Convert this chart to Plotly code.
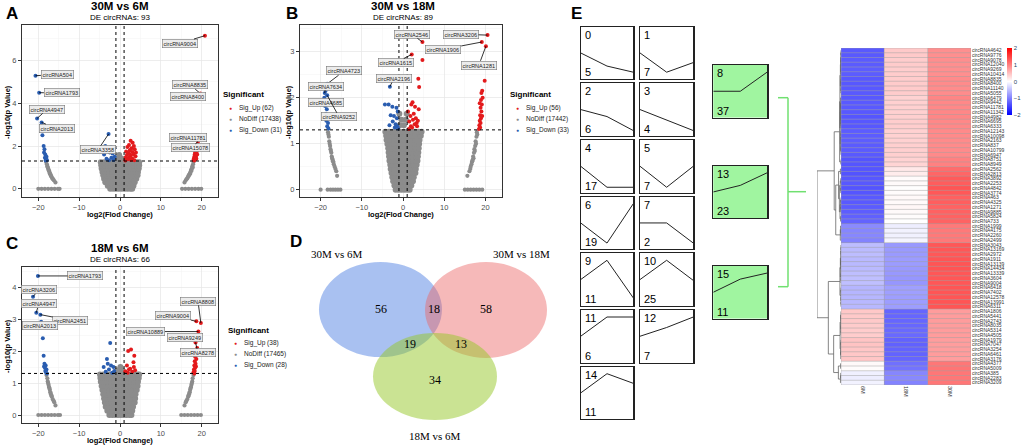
import numpy as np
import plotly.graph_objects as go

W, H = 1021, 445
SANS = "Liberation Sans, Arial, sans-serif"
SERIF = "Liberation Serif, Times New Roman, serif"
RED, GREY, BLUE = "#e31a1c", "#8c8c8c", "#2a5db0"

# ======================= DATA =======================
# ---- Panel A: 30M vs 6M  (log2 fold change, -log10 p) ----
a_up = [(20.8,7.15),(19.7,4.45),(19.4,4.25),(19.6,2.38),(19.1,2.2),
        (18.9,2.0),(18.7,1.9),(18.5,1.85),(18.8,1.75),(18.4,1.7),(18.6,1.65),(18.3,1.6),(18.5,1.55),
        (18.2,1.5),(18.4,1.45),(18.1,1.42),(18.3,1.38),(18.0,1.35),(18.2,1.32),(18.6,1.5),(18.9,1.6),
        (19.0,1.8),(18.7,1.4),
        (2.6,2.25),(3.1,2.15),(2.2,2.05),(3.4,2.0),(1.8,1.95),(2.8,1.9),(3.6,1.85),(2.4,1.8),(1.5,1.75),
        (3.0,1.72),(2.0,1.68),(3.3,1.62),(1.7,1.58),(2.6,1.55),(3.8,1.52),(1.4,1.48),(2.2,1.45),(3.0,1.42),
        (1.9,1.38),(2.7,1.35),(3.5,1.33),(1.3,1.32),(2.4,1.62),(3.9,1.7)]
a_down = [(-20.7,5.28),(-19.8,4.49),(-20.3,3.29),(-19.2,3.1),(-19.0,2.5),
          (-18.7,2.0),(-18.5,1.85),(-18.6,1.7),(-18.3,1.6),(-18.4,1.45),(-18.1,1.38),(-18.2,1.32),
          (-17.9,1.35),(-18.0,1.5),
          (-2.8,2.56),(-3.6,2.0),(-2.2,1.95),(-1.4,1.9),(-3.0,1.8),(-2.5,1.7),(-1.8,1.65),(-3.9,1.6),
          (-1.3,1.5),(-2.1,1.45),(-3.3,1.4),(-1.6,1.35),(-2.7,1.33)]
a_nodiff_arms = [(-18.1,1.25),(-17.9,1.15),(-17.8,1.05),(-17.6,0.95),(-17.5,0.88),(-17.3,0.8),(-17.2,0.72),
                 (-17.0,0.65),(-16.8,0.58),(-16.6,0.5),(-16.4,0.45),(-16.2,0.4),(-15.8,0.3),(-17.7,1.0),
                 (-17.4,0.85),(-17.1,0.7),(-16.9,0.6),
                 (-20.0,0),(-19.2,0),(-18.4,0),(-17.6,0),(-16.8,0),(-16.0,0),(-15.2,0),(-14.8,0),
                 (18.0,1.25),(17.9,1.15),(17.7,1.05),(17.6,0.95),(17.4,0.88),(17.3,0.8),(17.1,0.72),
                 (16.9,0.65),(16.7,0.58),(16.5,0.5),(16.3,0.45),(16.1,0.4),(15.8,0.3),(17.8,1.0),
                 (17.5,0.85),(17.2,0.7),(16.8,0.6),
                 (15.2,0),(16.0,0),(16.8,0),(17.6,0),(18.4,0),(19.2,0),(19.9,0)]
a_nodiff_core = [(0.00,[-2.4,-1.7,-1.0,-0.3,0.4,1.1,1.8,2.5,3.0]),
                 (0.15,[-3.0,-2.3,-1.6,-0.9,-0.2,0.5,1.2,1.9,2.6,3.3]),
                 (0.31,[-3.6,-2.9,-2.2,-1.5,-0.7,0.0,0.7,1.4,2.1,2.9,3.6]),
                 (0.47,[-3.9,-3.1,-2.4,-1.6,-0.9,-0.1,0.6,1.3,2.1,2.8,3.6,4.0]),
                 (0.63,[-4.1,-3.3,-2.5,-1.8,-1.0,-0.3,0.5,1.2,2.0,2.7,3.5,4.3]),
                 (0.79,[-4.3,-3.5,-2.7,-1.9,-1.1,-0.4,0.4,1.1,1.9,2.7,3.5,4.4]),
                 (0.95,[-4.5,-3.7,-2.9,-2.1,-1.3,-0.5,0.3,1.0,1.8,2.6,3.4,4.2,4.6]),
                 (1.10,[-4.6,-3.8,-3.0,-2.2,-1.4,-0.6,0.2,0.9,1.7,2.5,3.3,4.1,4.7]),
                 (1.24,[-4.7,-3.9,-3.0,-2.2,-1.4,-0.6,0.2,0.9,1.7,2.5,3.3,4.1,4.7]),
                 (1.42,[-0.7,0.4]),(1.58,[-0.2])]
a_label_names = ["circRNA9004","circRNA8835","circRNA8400","circRNA11781","circRNA15078",
                 "circRNA504","circRNA1793","circRNA4947","circRNA2013","circRNA3358"]
a_label_pts = [(20.8,7.15),(19.7,4.45),(19.4,4.25),(19.6,2.38),(19.1,2.2),
               (-20.7,5.28),(-19.8,4.49),(-20.3,3.29),(-19.2,3.1),(-2.8,2.56)]
a_counts = {"up": 62, "nodiff": 17438, "down": 31, "de": 93}

# ---- Panel B: 30M vs 18M ----
b_up = [(20.5,3.36),(19.1,3.21),(20.1,3.12),(4.7,3.21),(2.1,2.94),(4.7,2.82),(3.7,2.41),(3.9,2.23),(19.8,2.37),
        (19.2,2.15),(19.0,2.1),(19.3,2.0),(18.9,1.95),(19.1,1.85),(18.8,1.78),(19.0,1.7),(18.7,1.62),(18.9,1.55),
        (18.6,1.5),(18.8,1.45),(18.5,1.4),(18.7,1.35),(18.4,1.32),(19.2,1.6),(18.6,1.88),
        (2.3,1.9),(2.0,1.85),(3.8,1.75),(2.6,1.65),(1.8,1.6),(3.1,1.55),(2.4,1.52),(1.5,1.48),(3.3,1.45),
        (2.8,1.42),(1.9,1.38),(2.2,1.35),(1.4,1.32),(3.6,1.5),(3.4,1.38),(1.2,1.7),(2.9,1.8)]
b_down = [(-18.4,2.3),(-19.0,2.1),(-19.2,1.95),(-18.4,2.05),(-3.2,2.24),
          (-18.8,2.15),(-19.1,2.0),(-18.6,1.9),(-18.9,1.82),(-18.5,1.75),(-18.7,1.65),(-18.3,1.58),
          (-18.6,1.5),(-18.2,1.45),(-18.4,1.38),(-18.1,1.33),
          (-4.4,1.85),(-3.5,1.85),(-2.6,1.8),(-1.6,1.78),(-1.3,1.7),(-3.0,1.62),(-2.2,1.6),(-1.5,1.55),
          (-2.5,1.48),(-1.8,1.42),(-1.4,1.38),(-1.2,1.33),(-3.3,1.4),(-2.0,1.35)]
b_nodiff_arms = [(-18.2,1.25),(-18.0,1.15),(-17.9,1.05),(-17.7,0.95),(-17.6,0.88),(-17.4,0.8),(-17.3,0.72),
                 (-17.1,0.65),(-16.9,0.6),(-16.8,0.55),(-16.6,0.5),(-16.4,0.45),(-16.2,0.4),(-16.0,0.3),
                 (-17.8,1.0),(-17.5,0.84),(-17.2,0.68),(-18.1,1.2),(-17.0,0.62),
                 (-20.0,0),(-18.3,0),(-17.6,0),(-17.0,0),(-16.4,0),(-15.8,0),(-15.2,0),
                 (17.9,1.25),(17.8,1.15),(17.6,1.05),(17.5,0.95),(17.3,0.88),(17.2,0.8),(17.0,0.72),
                 (16.9,0.65),(16.7,0.6),(16.6,0.55),(16.4,0.5),(16.3,0.45),(16.1,0.4),(15.6,0.3),
                 (17.7,1.0),(17.4,0.84),(17.1,0.68),(18.0,1.2),(16.8,0.62),
                 (15.0,0),(15.7,0),(16.4,0),(17.1,0),(17.8,0),(18.5,0),(19.2,0)]
b_nodiff_core = [(0.00,[-1.8,-1.1,-0.4,0.3,1.0,1.6]),
                 (0.09,[-2.1,-1.4,-0.7,0.0,0.7,1.4,2.0]),
                 (0.18,[-2.4,-1.6,-0.9,-0.2,0.5,1.2,1.9,2.4]),
                 (0.27,[-2.6,-1.8,-1.0,-0.3,0.4,1.1,1.9,2.6]),
                 (0.36,[-2.8,-2.0,-1.2,-0.4,0.3,1.0,1.8,2.6,3.0]),
                 (0.45,[-3.0,-2.2,-1.4,-0.6,0.2,1.0,1.8,2.6,3.1]),
                 (0.54,[-3.1,-2.3,-1.5,-0.7,0.1,0.9,1.7,2.5,3.3]),
                 (0.63,[-3.3,-2.5,-1.6,-0.8,0.0,0.8,1.6,2.4,3.2,3.5]),
                 (0.72,[-3.4,-2.6,-1.7,-0.9,-0.1,0.7,1.5,2.3,3.1,3.6]),
                 (0.81,[-3.5,-2.6,-1.8,-0.9,-0.1,0.7,1.5,2.3,3.1,3.7]),
                 (0.90,[-3.6,-2.8,-1.9,-1.0,-0.2,0.6,1.4,2.3,3.1,3.8]),
                 (0.99,[-3.8,-2.9,-2.0,-1.1,-0.3,0.5,1.4,2.2,3.0,3.9]),
                 (1.08,[-4.0,-3.1,-2.2,-1.3,-0.4,0.4,1.3,2.2,3.1,4.0]),
                 (1.17,[-4.1,-3.2,-2.3,-1.4,-0.5,0.3,1.2,2.1,3.0,3.9,4.3]),
                 (1.26,[-4.3,-3.4,-2.5,-1.6,-0.7,0.2,1.1,2.0,2.9,3.8,4.5]),
                 (1.40,[-0.8,0.2]),(1.52,[0.7,-0.4]),(1.65,[0.9,-0.9])]
b_label_names = ["circRNA3206","circRNA1906","circRNA1281","circRNA2546","circRNA1615","circRNA2196",
                 "circRNA4723","circRNA7634","circRNA4685","circRNA9252"]
b_label_pts = [(20.5,3.36),(19.1,3.21),(20.1,3.12),(4.7,3.21),(2.1,2.94),(-3.2,2.24),
               (-18.4,2.3),(-19.0,2.1),(-19.2,1.95),(-18.4,2.05)]
b_counts = {"up": 56, "nodiff": 17442, "down": 33, "de": 89}

# ---- Panel C: 18M vs 6M ----
c_up = [(19.8,2.88),(18.7,2.93),(19.2,2.61),(18.5,2.45),(18.5,2.27),
        (18.9,2.1),(18.6,2.0),(18.8,1.9),(18.4,1.82),(18.7,1.75),(18.3,1.68),(18.5,1.6),(18.2,1.55),
        (18.4,1.48),(18.1,1.42),(18.3,1.38),(18.0,1.34),(18.6,1.52),(18.2,1.3),
        (2.7,2.05),(2.0,2.0),(3.5,1.85),(3.3,1.65),(1.7,1.55),(3.4,1.5),(1.3,1.37),(2.2,1.42),(3.0,1.35),
        (2.5,1.45),(1.9,1.32),(3.7,1.4)]
c_down = [(-20.1,4.35),(-21.3,3.7),(-20.5,3.2),(-19.5,3.14),(-19.3,2.92),(-18.9,2.4),
          (-18.7,1.85),(-18.5,1.6),(-18.2,1.55),(-18.4,1.48),(-18.0,1.42),(-18.3,1.38),(-18.1,1.33),
          (-18.6,1.52),(-17.9,1.3),
          (-2.4,2.25),(-3.2,1.75),(-3.0,1.6),(-2.2,1.55),(-4.0,1.5),(-1.6,1.5),(-2.7,1.42),(-1.4,1.38),
          (-3.5,1.35),(-1.9,1.32)]
c_nodiff_arms = [(-18.0,1.25),(-17.8,1.15),(-17.7,1.05),(-17.5,0.95),(-17.4,0.88),(-17.2,0.8),(-17.1,0.72),
                 (-16.9,0.65),(-16.7,0.58),(-16.5,0.5),(-16.3,0.45),(-16.1,0.4),(-15.8,0.3),(-17.6,1.0),
                 (-17.3,0.85),(-17.0,0.7),(-16.8,0.6),
                 (-20.0,0),(-19.2,0),(-18.4,0),(-17.6,0),(-16.8,0),(-16.0,0),(-15.2,0),(-14.7,0),
                 (18.0,1.25),(17.8,1.15),(17.7,1.05),(17.5,0.95),(17.4,0.88),(17.2,0.8),(17.1,0.72),
                 (16.9,0.65),(16.7,0.58),(16.5,0.5),(16.3,0.45),(16.1,0.4),(15.8,0.3),(17.6,1.0),
                 (17.3,0.85),(17.0,0.7),(16.8,0.6),
                 (15.0,0),(15.8,0),(16.6,0),(17.4,0),(18.2,0),(19.0,0),(19.8,0)]
c_nodiff_core = [(0.00,[-2.6,-1.9,-1.2,-0.5,0.2,0.9,1.6,2.3,2.8]),
                 (0.13,[-3.1,-2.4,-1.7,-1.0,-0.3,0.4,1.1,1.8,2.5,3.0]),
                 (0.26,[-3.5,-2.8,-2.0,-1.3,-0.6,0.1,0.8,1.5,2.3,3.2]),
                 (0.39,[-3.7,-2.9,-2.1,-1.4,-0.7,0.0,0.7,1.5,2.3,3.1,3.6]),
                 (0.52,[-3.9,-3.1,-2.3,-1.5,-0.8,-0.1,0.6,1.4,2.2,3.0,3.7]),
                 (0.65,[-4.1,-3.3,-2.5,-1.7,-0.9,-0.2,0.6,1.4,2.2,3.0,3.8]),
                 (0.78,[-4.3,-3.5,-2.7,-1.9,-1.1,-0.3,0.5,1.3,2.1,2.9,3.7,4.1]),
                 (0.91,[-4.5,-3.7,-2.9,-2.1,-1.3,-0.4,0.4,1.2,2.0,2.8,3.6,4.3]),
                 (1.04,[-4.7,-3.9,-3.1,-2.2,-1.4,-0.5,0.3,1.1,1.9,2.7,3.5,4.4]),
                 (1.16,[-4.8,-4.0,-3.1,-2.3,-1.4,-0.5,0.3,1.1,1.9,2.7,3.5,4.4,4.6]),
                 (1.27,[-4.9,-4.1,-3.2,-2.4,-1.5,-0.6,0.2,1.0,1.8,2.6,3.5,4.3,4.7]),
                 (1.40,[-0.6,0.5]),(1.50,[0.1])]
c_label_names = ["circRNA1793","circRNA3206","circRNA4947","circRNA2451","circRNA2013",
                 "circRNA8808","circRNA9004","circRNA10889","circRNA9249","circRNA8278"]
c_label_pts = [(-20.1,4.35),(-21.3,3.7),(-20.5,3.2),(-19.5,3.14),(-19.3,2.92),
               (19.8,2.88),(18.7,2.93),(19.2,2.61),(18.5,2.45),(18.5,2.27)]
c_counts = {"up": 38, "nodiff": 17465, "down": 28, "de": 66}

# ---- Panel D: Venn counts ----
venn_sets = ["30M vs 6M", "30M vs 18M", "18M vs 6M"]
venn_counts = [56, 18, 58, 19, 13, 34]   # A only, A&B, B only, A&C, B&C, C only

# ---- Panel E: STEM profiles ----
prof_ids = [0, 1, 2, 3, 4, 5, 6, 7, 9, 10, 11, 12, 14, 8, 13, 15]
prof_counts = [5, 7, 6, 4, 17, 7, 19, 2, 11, 25, 6, 7, 11, 37, 23, 11]
prof_vals = [[0,-1.5,-2.2],[0,-2.2,-1.1],[0,-0.8,-2.4],[0,-1.2,-2.4],[0,-2.4,-2.4],[0,-2.4,0],
             [0,-2.3,2.2],[0,0,-2.3],[0,2.2,-2.1],[0,2.2,-0.1],[0,2.2,2.2],[0,1.0,2.2],[0,2.2,1.1],
             [0,0,2.2],[0,0.75,2.2],[0,1.5,2.2]]
prof_sig = [False]*13 + [True]*3

# ---- Panel E: heatmap (row-scaled expression) ----
hm_cols = ["6M", "18M", "30M"]
hm_rows = ["circRNA4642","circRNA2562","circRNA2813","circRNA837","circRNA8835","circRNA12143","circRNA8400",
           "circRNA9442","circRNA9269","circRNA6479","circRNA9078","circRNA4982","circRNA9776","circRNA10098",
           "circRNA6695","circRNA11342","circRNA12040","circRNA6947","circRNA8751","circRNA10414","circRNA11781",
           "circRNA6333","circRNA2163","circRNA11140","circRNA10799","circRNA8949","circRNA5055",
           "circRNA3892","circRNA463","circRNA4842","circRNA2253","circRNA1271","circRNA3774","circRNA4325",
           "circRNA4175","circRNA1999","circRNA2499","circRNA2260",
           "circRNA5824","circRNA733","circRNA9885",
           "circRNA1911","circRNA3043","circRNA6418","circRNA3604","circRNA13991","circRNA13169","circRNA12578",
           "circRNA13339","circRNA13139","circRNA14434","circRNA7402","circRNA2972","circRNA6311","circRNA9004",
           "circRNA5441","circRNA3254","circRNA5314","circRNA1979","circRNA1806","circRNA8035","circRNA6461",
           "circRNA7047","circRNA2743","circRNA4505","circRNA3176",
           "circRNA4377","circRNA5009",
           "circRNA385","circRNA2283","circRNA3209"]
hm_6m = [-1.30,-1.33,-1.35,-1.29,-1.31,-1.28,-1.32,-1.30,-1.27,-1.31,-1.29,-1.33,-1.30,-1.28,-1.32,-1.31,
         -1.29,-1.30,-1.34,-1.28,-1.30,-1.32,-1.27,-1.31,-1.29,-1.33,-1.30,
         -1.32,-1.30,-1.34,-1.31,-1.29,-1.33,-1.30,
         -0.95,-0.92,-0.97,-0.94,
         -1.25,-1.22,-1.27,
         -0.55,-0.52,-0.58,-0.50,-0.56,-0.53,-0.57,-0.51,-0.55,-0.54,-0.58,-0.52,-0.56,-0.50,
         0.42,0.45,0.40,0.46,0.43,0.41,0.44,0.47,0.42,0.40,0.45,
         0.05,0.02,
         -0.12,-0.14,-0.10]
hm_18m = [0.42,0.18,0.15,0.38,0.40,0.36,0.41,0.37,0.39,0.35,0.40,0.38,0.42,0.36,0.39,0.37,0.41,0.38,0.35,
          0.40,0.37,0.39,0.36,0.41,0.38,0.34,0.40,
          0.03,0.05,0.01,0.04,0.06,0.02,0.04,
          -0.10,-0.13,-0.08,-0.11,
          0.02,0.00,0.04,
          -0.78,-0.80,-0.75,-0.82,-0.77,-0.79,-0.76,-0.81,-0.78,-0.80,-0.75,-0.79,-0.77,-0.82,
          -1.20,-1.22,-1.18,-1.23,-1.21,-1.19,-1.22,-1.24,-1.20,-1.18,-1.21,
          -1.12,-1.10,
          -0.95,-0.93,-0.97]
hm_30m = [0.88,1.15,1.20,0.91,0.91,0.92,0.91,0.93,0.88,0.96,0.89,0.95,0.88,0.92,0.93,0.94,0.88,0.92,0.99,
          0.88,0.93,0.93,0.91,0.90,0.91,0.99,0.90,
          1.29,1.25,1.33,1.27,1.23,1.31,1.26,
          1.05,1.05,1.05,1.05,
          1.23,1.22,1.23,
          1.33,1.32,1.33,1.32,1.33,1.32,1.33,1.32,1.33,1.34,1.33,1.31,1.33,1.32,
          0.78,0.77,0.78,0.77,0.78,0.78,0.78,0.77,0.78,0.78,0.76,
          1.07,1.08,
          1.07,1.07,1.07]

# ======================= LAYOUT HELPERS =======================
def dx(a, b): return [a / W, b / W]
def dy(t, b): return [1 - b / H, 1 - t / H]
def px(x): return x / W
def py(y): return 1 - y / H

fig = go.Figure()
lay = {}
anns = []
shapes = []

def keys(i):
    s = "" if i == 1 else str(i)
    return "xaxis" + s, "yaxis" + s, "x" + s, "y" + s

def ann(text, x, y, size, bold=False, xa="center", ya="middle", family=SANS, color="black", angle=0):
    anns.append(dict(text=("<b>%s</b>" % text) if bold else text, x=px(x), y=py(y), xref="paper",
                     yref="paper", xanchor=xa, yanchor=ya, showarrow=False, textangle=angle,
                     font=dict(size=size, family=family, color=color)))

def flat_core(core):
    return [(x, y) for y, xs in core for x in xs]

def volcano(i, up, down, arms, core, xr, yr, ydt, dom, names, pts, label_at, counts, title,
            title_xy, legend_xy, ytitle_xy, xtitle_xy, letter, letter_xy):
    xk, yk, xa, ya = keys(i)
    for data, col, sz in [(core, GREY, 6), (arms, GREY, 4.2), (up, RED, 4), (down, BLUE, 4)]:
        fig.add_trace(go.Scatter(x=[p[0] for p in data], y=[p[1] for p in data], mode="markers",
                                 marker=dict(color=col, size=sz, line=dict(width=0)), xaxis=xa, yaxis=ya,
                                 showlegend=False, hoverinfo="skip"))
    common = dict(showgrid=True, gridcolor="#e6e6e6", gridwidth=0.7, zeroline=False, showline=True,
                  mirror=True, linecolor="#333333", linewidth=1, ticks="outside", ticklen=3,
                  tickcolor="#333333", tickfont=dict(size=7.5, color="#4d4d4d", family=SANS))
    lay[xk] = dict(domain=dx(*dom[0]), range=xr, anchor=ya, tickmode="linear", tick0=0, dtick=10,
                   minor=dict(dtick=5, tick0=0, showgrid=True, gridcolor="#f3f3f3", gridwidth=0.5), **common)
    lay[yk] = dict(domain=dy(*dom[1]), range=yr, anchor=xa, tickmode="linear", tick0=0, dtick=ydt,
                   minor=dict(dtick=ydt / 2, tick0=0, showgrid=True, gridcolor="#f3f3f3", gridwidth=0.5), **common)
    for xv in (-1, 1):
        shapes.append(dict(type="line", xref=xa, yref=ya + " domain", x0=xv, x1=xv, y0=0, y1=1,
                           line=dict(color="black", width=1, dash="dot")))
    shapes.append(dict(type="line", xref=xa + " domain", yref=ya, x0=0, x1=1, y0=1.3, y1=1.3,
                       line=dict(color="black", width=1, dash="dot")))
    for nm, p, at in zip(names, pts, label_at):
        anns.append(dict(text=nm, x=p[0], y=p[1], xref=xa, yref=ya, ax=at[0], ay=at[1], axref=xa, ayref=ya,
                         showarrow=True, arrowhead=0, arrowwidth=0.8, arrowcolor="black", standoff=0,
                         font=dict(size=5.5, family=SANS, color="#222"), bgcolor="#ececec",
                         bordercolor="#777", borderwidth=0.6, borderpad=1))
    ann(title, title_xy[0], title_xy[1], 11.5, bold=True)
    ann("DE circRNAs: %d" % counts["de"], title_xy[0], title_xy[1] + 11, 8)
    ann("-log10(p Value)", ytitle_xy[0], ytitle_xy[1], 7.5, bold=True, angle=-90)
    ann("log2(Flod Change)", xtitle_xy[0], xtitle_xy[1], 7.5, bold=True)
    ann(letter, letter_xy[0], letter_xy[1], 17, bold=True)
    lx, ly = legend_xy
    ann("Significant", lx, ly, 8, bold=True, xa="left")
    items = [("Sig_Up (%d)" % counts["up"], RED), ("NoDiff (%d)" % counts["nodiff"], GREY),
             ("Sig_Down (%d)" % counts["down"], BLUE)]
    for k, (txt, col) in enumerate(items):
        yy = ly + 13 + k * 11
        ann("\u25CF", lx + 9, yy, 5, color=col)
        ann(txt, lx + 16, yy, 6.5, xa="left", color="#222")

volcano(1, a_up, a_down, a_nodiff_arms, flat_core(a_nodiff_core), [-24, 24], [-0.38, 7.65], 2,
        ((22, 218), (25, 197)), a_label_names, a_label_pts,
        [(14.7,6.8),(17.2,4.85),(16.7,4.33),(16.7,2.4),(17.2,1.91),
         (-15.4,5.35),(-14.3,4.48),(-17.8,3.72),(-15.4,2.83),(-5.4,1.82)],
        a_counts, "30M vs 6M", (120, 6), (221, 95), (7, 112), (120, 214), "A", (12, 13))
volcano(2, b_up, b_down, b_nodiff_arms, flat_core(b_nodiff_core), [-25, 24], [-0.16, 3.58], 1,
        ((300, 502), (25, 197)), b_label_names, b_label_pts,
        [(14.0,3.38),(9.8,3.05),(18.4,2.71),(2.1,3.38),(-1.8,2.76),(-2.2,2.42),
         (-14.3,2.58),(-18.8,2.25),(-18.8,1.89),(-15.5,1.58)],
        b_counts, "30M vs 18M", (403, 6), (508, 95), (288, 112), (401, 214), "B", (292, 13))
volcano(3, c_up, c_down, c_nodiff_arms, flat_core(c_nodiff_core), [-24, 24], [-0.25, 4.63], 1,
        ((22, 218), (267, 423)), c_label_names, c_label_pts,
        [(-8.5,4.35),(-19.9,3.92),(-19.9,3.48),(-12.2,2.96),(-19.5,2.79),
         (19.1,3.56),(13.0,3.1),(6.3,2.61),(15.9,2.41),(19.1,1.94)],
        c_counts, "18M vs 6M", (120, 248), (226, 330), (7, 346), (120, 440), "C", (12, 243))

# ======================= Venn (D) =======================
lay["xaxis4"] = dict(domain=dx(300, 560), range=[300, 560], visible=False, anchor="y4")
lay["yaxis4"] = dict(domain=dy(240, 445), range=[445, 240], visible=False, anchor="x4")
venn_shapes = [((319, 262, 442, 357), "rgba(75,125,225,0.48)"),
               ((425, 262, 547, 358), "rgba(235,100,100,0.45)"),
               ((373, 333, 497, 420), "rgba(150,200,40,0.5)")]
for (x0, y0, x1, y1), col in venn_shapes:
    shapes.append(dict(type="circle", xref="x4", yref="y4", x0=x0, x1=x1, y0=y0, y1=y1,
                       fillcolor=col, line=dict(width=0), layer="below"))
venn_pos = [(381, 310), (434, 310), (486, 310), (410, 345), (461, 345), (435, 381)]
fig.add_trace(go.Scatter(x=[p[0] for p in venn_pos], y=[p[1] for p in venn_pos], mode="text",
                         text=[str(v) for v in venn_counts], textfont=dict(size=12, family=SERIF, color="black"),
                         xaxis="x4", yaxis="y4", showlegend=False, hoverinfo="skip"))
for name, (xx, yy) in zip(venn_sets, [(337, 254), (521, 254), (435, 436)]):
    ann(name, xx, yy, 11, family=SERIF)
ann("D", 296, 242, 17, bold=True)

# ======================= Profiles (E) =======================
ann("E", 576, 13, 17, bold=True)
box_x = {0: (580.7, 633.3), 1: (640, 693.3), 2: (713.3, 767.3)}
box_cells = [(0, 26.7), (1, 26.7), (0, 83.3), (1, 83.3), (0, 140), (1, 140), (0, 196.7), (1, 196.7),
             (0, 253.3), (1, 253.3), (0, 310), (1, 310), (0, 366.7), (2, 65), (2, 165.7), (2, 266)]
BOX_H = 52.5
for k, (pid, cnt, vals, sig) in enumerate(zip(prof_ids, prof_counts, prof_vals, prof_sig)):
    i = 7 + k
    xk, yk, xa, ya = keys(i)
    col, top = box_cells[k]
    lay[xk] = dict(domain=dx(*box_x[col]), range=[0, 2], anchor=ya, showline=True, mirror=True,
                   linecolor="#222", linewidth=1.2, showticklabels=False, ticks="", showgrid=False, zeroline=False)
    lay[yk] = dict(domain=dy(top, top + BOX_H), range=[-3, 3], anchor=xa, showline=True, mirror=True,
                   linecolor="#222", linewidth=1.2, showticklabels=False, ticks="", showgrid=False, zeroline=False)
    if sig:
        shapes.append(dict(type="rect", xref=xa + " domain", yref=ya + " domain", x0=0, x1=1, y0=0, y1=1,
                           fillcolor="#a0f5a0", line=dict(width=0), layer="below"))
    fig.add_trace(go.Scatter(x=[0, 1, 2], y=vals, mode="lines", line=dict(color="#222", width=1),
                             xaxis=xa, yaxis=ya, showlegend=False, hoverinfo="skip"))
    anns.append(dict(text=str(pid), xref=xa + " domain", yref=ya + " domain", x=0.04, y=1.0,
                     xanchor="left", yanchor="top", showarrow=False,
                     font=dict(size=11, family=SANS, color="black")))
    anns.append(dict(text=str(cnt), xref=xa + " domain", yref=ya + " domain", x=0.04, y=-0.02,
                     xanchor="left", yanchor="bottom", showarrow=False,
                     font=dict(size=11, family=SANS, color="black")))

# green bracket
GB = "#70e070"
for (x0, y0, x1, y1) in [(778, 97.7, 788, 97.7), (788, 97.7, 788, 286.7), (778, 286.7, 788, 286.7),
                         (788, 191.7, 806, 191.7)]:
    shapes.append(dict(type="line", xref="paper", yref="paper", x0=px(x0), x1=px(x1), y0=py(y0), y1=py(y1),
                       line=dict(color=GB, width=1.5)))

# ======================= Heatmap + dendrogram =======================
M = np.column_stack([hm_6m, hm_18m, hm_30m])
n = len(M)
D = np.sqrt(((M[:, None, :] - M[None, :, :]) ** 2).sum(-1))
nodes = [dict(h=0.0, kids=None, members=[i]) for i in range(n)]
CD = np.full((2 * n, 2 * n), np.inf)
CD[:n, :n] = D
np.fill_diagonal(CD, np.inf)
act = list(range(n))
while len(act) > 1:
    sub = CD[np.ix_(act, act)]
    kk = int(np.argmin(sub))
    a, b = act[kk // len(act)], act[kk % len(act)]
    new = len(nodes)
    nodes.append(dict(h=float(CD[a, b]), kids=(a, b), members=nodes[a]["members"] + nodes[b]["members"]))
    for c in act:
        if c not in (a, b):
            d = max(CD[a, c], CD[b, c])
            CD[new, c] = CD[c, new] = d
    act = [c for c in act if c not in (a, b)] + [new]
root = act[0]

def leaf_order(i):
    nd = nodes[i]
    if nd["kids"] is None:
        return [i]
    a, b = nd["kids"]
    if np.mean(nodes[a]["members"]) > np.mean(nodes[b]["members"]):
        a, b = b, a
    return leaf_order(a) + leaf_order(b)

order = leaf_order(root)
ypos = {leaf: k for k, leaf in enumerate(order)}
def node_y(i):
    if i in ypos:
        return ypos[i]
    a, b = nodes[i]["kids"]
    ypos[i] = (node_y(a) + node_y(b)) / 2
    return ypos[i]
node_y(root)
dxs, dys = [], []
for i, nd in enumerate(nodes):
    if nd["kids"] is None:
        continue
    a, b = nd["kids"]
    dxs += [nodes[a]["h"], nd["h"], nd["h"], nodes[b]["h"], None]
    dys += [ypos[a], ypos[a], ypos[b], ypos[b], None]
hmax = nodes[root]["h"]
fig.add_trace(go.Scatter(x=dxs, y=dys, mode="lines", line=dict(color="#666", width=0.8),
                         xaxis="x6", yaxis="y6", showlegend=False, hoverinfo="skip"))
lay["xaxis6"] = dict(domain=dx(817, 841), range=[hmax * 1.0, 0], visible=False, anchor="y6")
lay["yaxis6"] = dict(domain=dy(48, 385), range=[n - 0.5, -0.5], visible=False, anchor="x6")

Mo = M[order]
labels_o = [hm_rows[i] for i in order]
fig.add_trace(go.Heatmap(z=Mo, x=[0, 1, 2], y=list(range(n)),
                         colorscale=[[0, "#0000ff"], [0.5, "#ffffff"], [1, "#ff0000"]], zmin=-2, zmax=2,
                         xaxis="x5", yaxis="y5", hoverinfo="skip",
                         colorbar=dict(x=px(1007), xanchor="left", y=py(48), yanchor="top", lenmode="pixels",
                                       len=67, thickness=5, outlinewidth=0, tickvals=[-2, -1, 0, 1, 2],
                                       tickfont=dict(size=6, family=SANS), xpad=0, ypad=0)))
gx, gy = [], []
for r in range(n + 1):
    gx += [-0.5, 2.5, None]
    gy += [r - 0.5, r - 0.5, None]
for cc in range(4):
    gx += [cc - 0.5, cc - 0.5, None]
    gy += [-0.5, n - 0.5, None]
fig.add_trace(go.Scatter(x=gx, y=gy, mode="lines", line=dict(color="#a0a0a0", width=0.5),
                         xaxis="x5", yaxis="y5", showlegend=False, hoverinfo="skip"))
lay["xaxis5"] = dict(domain=dx(841, 971), range=[-0.5, 2.5], anchor="y5", tickvals=[0, 1, 2],
                     ticktext=hm_cols, tickangle=90, tickfont=dict(size=5.5, family=SANS, color="#333"),
                     showgrid=False, zeroline=False, ticks="", showline=False)
lay["yaxis5"] = dict(domain=dy(48, 385), range=[n - 0.5, -0.5], anchor="x5", side="right",
                     tickvals=list(range(n)), ticktext=labels_o, tickfont=dict(size=5, family=SANS, color="#333"),
                     showgrid=False, zeroline=False, ticks="", showline=False)

fig.update_layout(width=W, height=H, margin=dict(l=0, r=0, t=0, b=0), autosize=False,
                  paper_bgcolor="white", plot_bgcolor="white", showlegend=False,
                  annotations=anns, shapes=shapes, hovermode=False, **lay)
fig.write_html("out.html", config={"displayModeBar": False, "staticPlot": True})

# remove the browser's default 8px body margin so the figure sits at the page origin
with open("out.html", "r", encoding="utf-8") as f:
    html = f.read()
html = html.replace("<head>", "<head><style>html,body{margin:0;padding:0;}</style>", 1)
with open("out.html", "w", encoding="utf-8") as f:
    f.write(html)
